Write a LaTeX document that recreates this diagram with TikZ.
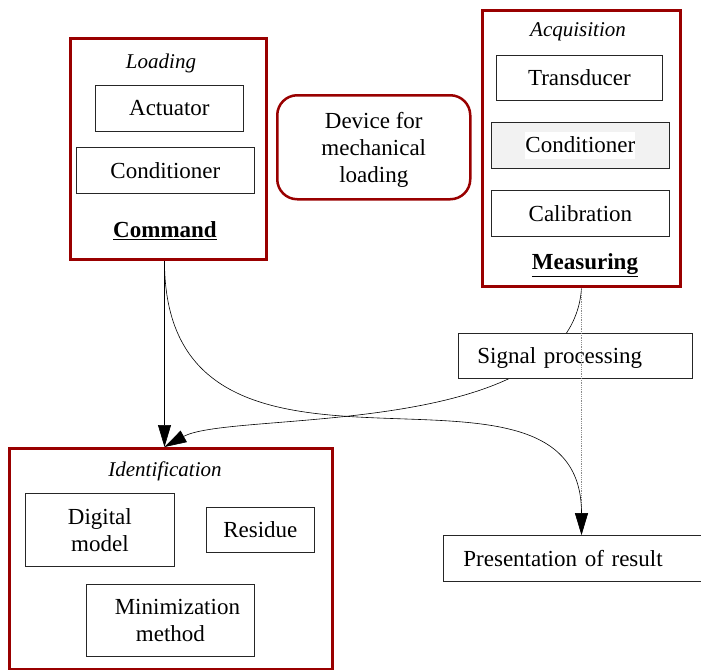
\documentclass[tikz,border=0pt]{standalone}
\usepackage{fontspec}
\setmainfont{Liberation Serif}
\usetikzlibrary{arrows.meta,calc,positioning}
\definecolor{frame}{RGB}{153,0,0}
\definecolor{shade}{RGB}{242,242,242}
\tikzset{
	group/.style={draw=frame, line width=3pt, anchor=north west, inner sep=0pt},
	part/.style={draw=black!85, line width=0.8pt, fill=white, anchor=north west, inner sep=0pt, text depth=0pt, align=center, font=\fontsize{23}{27}\selectfont},
	title/.style={text depth=0pt, font=\fontsize{21}{25}\selectfont\itshape},
	head/.style={text depth=0pt, font=\fontsize{23}{27}\selectfont\bfseries},
	flow/.style={line width=0.6pt, -{Triangle[length=22pt,width=13pt]}},
}

\begin{document}
\begin{tikzpicture}[x=1pt, y=-1pt]
		%%%%% FRAME %%%%%
		\useasboundingbox (0, 0) rectangle (701, 669);
		
		%%%%% COMMAND %%%%%
		\node[group, minimum width=196, minimum height=221] (cmd) at (69, 37) {};
		\node[title] (loading) at (161, 61) {Loading};
		\node[part, minimum width=148, minimum height=46] (act) at (95, 85) {Actuator};
		\node[part, minimum width=178, minimum height=46] (cond) at (76, 147) {Conditioner};
		\node[head] (command) at (165, 230) {\underline{Command}};
		
		%%%%% DEVICE %%%%%
		\node[part, draw=frame, line width=2.5pt, rounded corners=20pt, minimum width=193, minimum height=104] (dev) at (276, 94) {Device for\\mechanical\\loading};
		
		%%%%% MEASURING %%%%%
		\node[group, minimum width=198, minimum height=276] (meas) at (481, 9) {};
		\node[title] (acq) at (578, 30) {Acquisition};
		\node[part, minimum width=166, minimum height=45] (trans) at (496, 55) {Transducer};
		\node[part, fill=shade, text depth=, minimum width=178, minimum height=46] (cond2) at (491, 122) {\setlength\fboxsep{0pt}\colorbox{white}{\rule[-6pt]{0pt}{27pt}Conditioner}};
		\node[part, minimum width=178, minimum height=46] (calib) at (491, 190) {Calibration};
		\node[head] (measuring) at (585, 262) {\underline{Measuring}};
		
		%%%%% IDENTIFICATION %%%%%
		\node[group, minimum width=323, minimum height=221] (idn) at (8, 447) {};
		\node[title] (ident) at (165, 469) {Identification};
		\node[part, minimum width=149, minimum height=73] (model) at (25, 493) {Digital\\model};
		\node[part, minimum width=108, minimum height=45] (res) at (206, 507) {Residue};
		\node[part, minimum width=168, minimum height=72] (mini) at (86, 584) {\hspace*{14pt}Minimization\\method};
		
		%%%%% LINKS %%%%%
		\coordinate (drop) at ($(cmd.south)+(-4, 0)$);
		\draw[flow] (drop) -- (drop |- idn.north);
		\draw[flow] (meas.south) .. controls +(-10, 153) and +(67, -37) .. (drop |- idn.north);
		
		\node[part, minimum width=234, minimum height=45, text width=196, align=left, inner xsep=19pt] (sig) at (458, 333) {Signal processing};
		\node[part, minimum width=260, minimum height=46, text width=220, align=left, inner xsep=20pt] (pres) at (443, 535) {Presentation of result};
		
		\draw[flow, draw=black!45, line width=0.8pt, densely dotted] (meas.south) -- (meas.south |- pres.north);
		\draw[flow] (drop) .. controls +(0, 275) and +(0, -215) .. (meas.south |- pres.north);
		
		%%%%% END %%%%%
\end{tikzpicture}
\end{document}
